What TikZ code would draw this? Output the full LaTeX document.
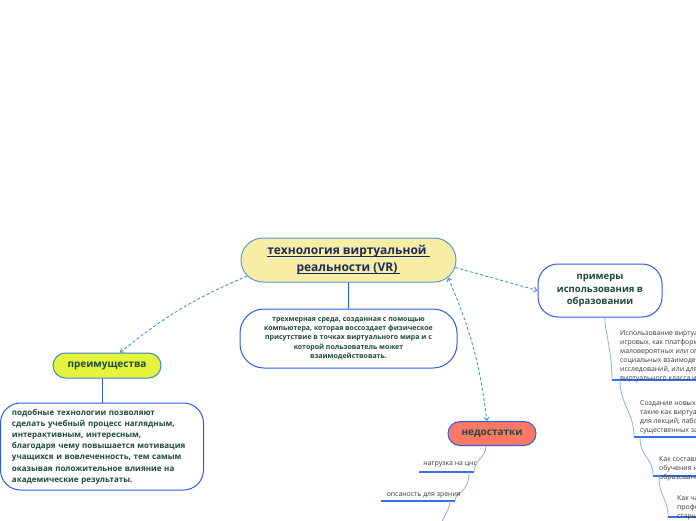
\documentclass[tikz,border=0pt]{standalone}
\usepackage{fontspec}
\setmainfont{Open Sans}
\usetikzlibrary{arrows.meta,shapes.misc}

\definecolor{ctrfill}{HTML}{F8EDA4}
\definecolor{ctrline}{HTML}{5B9BD5}
\definecolor{navy}{HTML}{1B2A5E}
\definecolor{boxline}{HTML}{2F5BEA}
\definecolor{preline}{HTML}{3F86D9}
\definecolor{dgreen}{HTML}{1F4A3A}
\definecolor{prefill}{HTML}{E4F43C}
\definecolor{ndfill}{HTML}{FF7866}
\definecolor{dashc}{HTML}{4A90E2}
\definecolor{thinc}{HTML}{8AAEF5}
\definecolor{ulc}{HTML}{3A6CF0}
\definecolor{graytext}{HTML}{3A3A3A}

\newcommand\myul[1]{\setbox0=\hbox{#1}\rlap{\rule[-2.6pt]{\wd0}{1.1pt}}\box0}

\begin{document}
\begin{tikzpicture}[x=1pt,y=-1pt,
  pill/.style={rounded rectangle, draw, line width=1pt, inner sep=0pt, align=center},
  rbox/.style={rectangle, draw=boxline, line width=1pt, fill=white, inner sep=0pt},
  dashconn/.style={draw=dashc, line width=0.9pt, dash pattern=on 3pt off 2.2pt},
  tip/.style={-{Straight Barb[length=3pt,width=5pt]}},
  solidconn/.style={draw=boxline, line width=1pt},
  thinb/.style={draw=thinc, line width=0.8pt},
  ul/.style={draw=ulc, line width=2pt},
  small/.style={font=\fontsize{6.9}{9.1}\selectfont, text=graytext, inner sep=0pt, align=left},
]
\clip (0,0) rectangle (696,520);
\fill[white] (0,0) rectangle (696,520);

% central node
\node[pill, draw=ctrline, fill=ctrfill, minimum width=215pt, minimum height=44pt,
      font=\fontsize{12}{16.7}\selectfont\bfseries, text=navy] (ctr) at (348.5,260)
      {\myul{технология виртуальной }\\\myul{реальности (VR) }};

% definition
\node[rbox, minimum width=217pt, minimum height=59pt, rounded corners=24pt,
      font=\fontsize{7}{9.3}\selectfont\bfseries, text=dgreen, align=center] (def) at (348.5,338.5)
      {трехмерная среда, созданная с помощью\\компьютера, которая воссоздает физическое\\присутствие в точках виртуального мира и с\\которой пользователь может\\взаимодействовать.};
\draw[solidconn] (ctr) -- (def);

% advantages
\node[pill, draw=preline, fill=prefill, minimum width=108pt, minimum height=25pt,
      font=\fontsize{10}{12}\selectfont\bfseries, text=dgreen] (pre) at (107,365.5) {преимущества};
\node[rbox, rounded corners=20pt, minimum width=203pt, minimum height=87pt, text width=180pt,
      align=left, font=\fontsize{8}{11.2}\selectfont\bfseries, text=dgreen] (adv) at (102,446.5)
      {подобные технологии позволяют\\сделать учебный процесс наглядным,\\интерактивным, интересным,\\благодаря чему повышается мотивация\\учащихся и вовлеченность, тем самым\\оказывая положительное влияние на\\академические результаты.};
\draw[solidconn] (adv.north |- pre.south) -- (adv.north);

% examples
\node[rbox, rounded corners=20pt, minimum width=124pt, minimum height=53pt, align=center,
      font=\fontsize{9.5}{12.7}\selectfont\bfseries, text=dgreen] (ex) at (600,290.5)
      {примеры\\использования в\\образовании};

% disadvantages
\node[pill, draw=boxline, fill=ndfill, minimum width=88pt, minimum height=24pt,
      font=\fontsize{10}{12}\selectfont\bfseries, text=dgreen] (nd) at (492,433.5) {недостатки};

% dashed connectors
\draw[dashconn, tip] (ctr.189) to[bend right=8] (pre.45);
\draw[dashconn, tip] (ctr.-4) -- (ex.west);
\draw[dashconn, {Straight Barb[length=3pt,width=5pt]}-{Straight Barb[length=3pt,width=5pt]}]
      (ctr.-10) to[bend left=8] (nd.112);

% disadvantages branches
\coordinate (u1l) at (419,472); \coordinate (u1r) at (474,472);
\coordinate (b2) at (469,472);
\coordinate (u2l) at (381,501); \coordinate (u2r) at (455,501);
\coordinate (b3) at (450,501); \coordinate (b3e) at (440,530);
\draw[ul] (u1l) -- (u1r);
\draw[thinb] (nd.244) .. controls +(0,12) and +(0,-12) .. (u1r);
\node[small, anchor=base east] (t1) at (477,465) {нагрузка на цнс};
\draw[ul] (u2l) -- (u2r);
\draw[thinb] (b2) .. controls +(0,22) and +(0,-10) .. (u2r);
\node[small, anchor=base east] (t2) at (461,496.5) {опсаность для зрения};
\draw[thinb] (b3) .. controls +(0,10) and +(0,-10) .. (b3e);

% examples branches
\coordinate (uAl) at (612,380); \coordinate (uAr) at (700,380);
\coordinate (bB) at (620,380); \coordinate (uBl) at (634,437); \coordinate (uBr) at (700,437);
\coordinate (bC) at (640,437); \coordinate (uCl) at (653,476); \coordinate (uCr) at (700,476);
\coordinate (bD) at (659,476); \coordinate (uDl) at (668,517); \coordinate (uDr) at (700,517);

\draw[thinb] (ex.-80) .. controls +(0,14) and +(0,-30) .. (uAl);
\draw[ul] (uAl) -- (uAr);
\node[small, anchor=base west] (tA) at (620,380.5)
  {Использование виртуальной реальности\\игровых, как платформы для моделирования\\маловероятных или опасных ситуаций,\\социальных взаимодействий, научных\\исследований, или для создания\\виртуального класса и лабораторий.};

\draw[thinb] (bB) .. controls +(0,25) and +(0,-25) .. (uBl);
\draw[ul] (uBl) -- (uBr);
\node[small, anchor=base west] (tB) at (640,432.5)
  {Создание новых образовательных сред,\\такие как виртуальные аудитории\\для лекций, лабораторных работ без\\существенных затрат.};

\draw[thinb] (bC) .. controls +(0,22) and +(0,-20) .. (uCl);
\draw[ul] (uCl) -- (uCr);
\node[small, anchor=base west] (tC) at (659,479.7)
  {Как составляющая дистанционного\\обучения на всех уровнях\\образования.};

\draw[thinb] (bD) .. controls +(0,22) and +(0,-20) .. (uDl);
\draw[ul] (uDl) -- (uDr);
\node[small, anchor=base west] (tD) at (677,518.2)
  {Как часть профориентации\\профессиональной подготовки\\старшеклассников.};
\end{tikzpicture}
\end{document}
